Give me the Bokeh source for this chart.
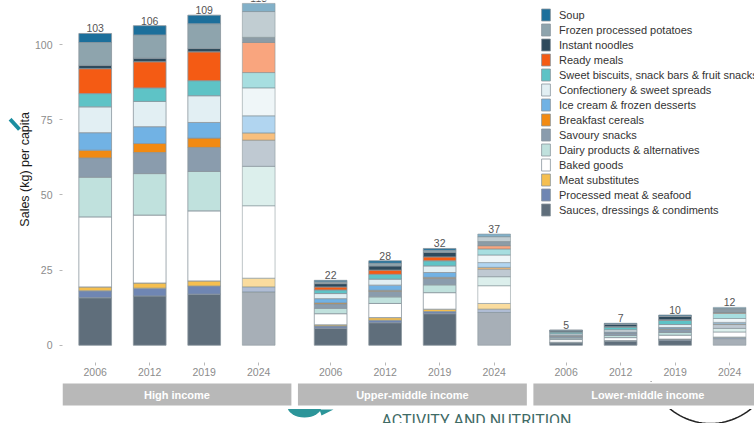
import numpy as np
from bokeh.plotting import figure
from bokeh.models import (ColumnDataSource, Range1d, FixedTicker, Legend, LegendItem,
                          Arrow, NormalHead)
from bokeh.layouts import column
from bokeh.embed import file_html
from bokeh.resources import INLINE
from bokeh.core.properties import value

# ---------------- data ----------------
income_groups = ["High income", "Upper-middle income", "Lower-middle income"]
years = ["2006", "2012", "2019", "2024"]
projected_year = "2024"

# kg per capita, bars in order: High 2006..2024, Upper-middle 2006..2024, Lower-middle 2006..2024
sauces            = [15.8, 16.4, 17.0, 17.7, 5.7, 7.5, 10.5, 10.9, 0.80, 1.30, 1.70, 2.20]
processed_meat    = [2.3, 2.6, 2.7, 1.7, 0.7, 0.8, 0.7, 1.1, 0.15, 0.20, 0.30, 0.40]
meat_substitutes  = [1.3, 1.7, 1.7, 2.9, 0.4, 0.9, 0.8, 1.9, 0.05, 0.05, 0.05, 0.10]
baked_goods       = [23.3, 22.6, 23.3, 24.1, 3.7, 4.7, 5.5, 5.9, 0.90, 1.00, 1.30, 1.70]
dairy             = [13.2, 13.8, 13.1, 13.1, 1.8, 2.2, 2.6, 3.0, 0.50, 0.70, 0.90, 1.20]
savoury_snacks    = [6.4, 7.0, 8.0, 8.7, 1.4, 1.8, 2.1, 2.5, 0.60, 0.80, 1.10, 1.30]
breakfast_cereals = [2.6, 3.0, 3.1, 2.4, 0.4, 0.4, 0.4, 0.6, 0.10, 0.10, 0.15, 0.20]
ice_cream         = [5.8, 5.6, 5.2, 5.7, 1.4, 1.7, 1.6, 1.6, 0.20, 0.30, 0.40, 0.50]
confectionery     = [8.6, 8.4, 8.9, 9.3, 1.7, 2.0, 2.2, 2.5, 0.50, 0.70, 1.00, 1.30]
sweet_biscuits    = [4.4, 4.5, 5.0, 5.1, 1.2, 1.6, 1.7, 2.0, 0.60, 0.90, 1.40, 1.70]
ready_meals       = [8.3, 8.7, 9.6, 10.0, 1.0, 1.4, 1.3, 1.1, 0.10, 0.15, 0.20, 0.25]
instant_noodles   = [1.1, 1.2, 1.1, 1.7, 1.1, 1.4, 1.5, 1.4, 0.40, 0.80, 1.10, 1.20]
frozen_potatoes   = [7.6, 7.7, 8.2, 8.6, 0.6, 0.9, 0.7, 1.6, 0.05, 0.10, 0.15, 0.20]
soup              = [3.0, 3.1, 2.9, 2.7, 0.5, 0.8, 0.6, 0.9, 0.10, 0.20, 0.30, 0.35]

total_labels = [103, 106, 109, 113, 22, 28, 32, 37, 5, 7, 10, 12]

# stacking order, bottom to top
categories = [
    ("Sauces, dressings & condiments", sauces, "#5f6e7b"),
    ("Processed meat & seafood", processed_meat, "#6f86b3"),
    ("Meat substitutes", meat_substitutes, "#f5bf4f"),
    ("Baked goods", baked_goods, "#ffffff"),
    ("Dairy products & alternatives", dairy, "#c0e1dd"),
    ("Savoury snacks", savoury_snacks, "#8a9cad"),
    ("Breakfast cereals", breakfast_cereals, "#f28a12"),
    ("Ice cream & frozen desserts", ice_cream, "#71b2e4"),
    ("Confectionery & sweet spreads", confectionery, "#e2eff3"),
    ("Sweet biscuits, snack bars & fruit snacks", sweet_biscuits, "#5ec3c6"),
    ("Ready meals", ready_meals, "#f45b14"),
    ("Instant noodles", instant_noodles, "#2e4a5c"),
    ("Frozen processed potatoes", frozen_potatoes, "#8ea4ad"),
    ("Soup", soup, "#1c6f9b"),
]

# ---------------- layout constants ----------------
FONT = "Liberation Sans"
W, H = 754, 423
LEFT = 62
FRAME_H1 = 362
BOTTOM1 = 19
H1 = FRAME_H1 + BOTTOM1
H2 = H - H1
BAR_W = 0.6
EXPAND = 0.6
PANEL = 3 + 2 * EXPAND
OFFSET = PANEL + 0.12
PX_PER_X = 54.5
x_lo = -EXPAND
x_hi = x_lo + (W - LEFT) / PX_PER_X
y_lo, y_hi = -5.73, 114.67


def x_of_px(px):
    return x_lo + (px - LEFT) / PX_PER_X


def y_of_px(py):
    return y_hi - py * (y_hi - y_lo) / FRAME_H1


xs, year_labels, fill_alpha, line_alpha = [], [], [], []
for g, grp in enumerate(income_groups):
    for j, yr in enumerate(years):
        xs.append(g * OFFSET + j)
        year_labels.append(yr)
        fill_alpha.append(0.55 if yr == projected_year else 1.0)
        line_alpha.append(0.7 if yr == projected_year else 1.0)

x_range = Range1d(x_lo, x_hi)
p = figure(width=W, height=H1, x_range=x_range, y_range=Range1d(y_lo, y_hi),
           output_backend="svg", toolbar_location=None,
           min_border_left=LEFT, min_border_right=0, min_border_top=0,
           min_border_bottom=BOTTOM1, outline_line_color=None,
           background_fill_color="white", border_fill_color="white")
p.grid.visible = False

bottom = np.zeros(len(xs))
renderers = {}
for name, vals, col in categories:
    vals = np.array(vals, dtype=float)
    src = ColumnDataSource(dict(x=xs, bottom=bottom.copy(), top=bottom + vals,
                                fa=fill_alpha, la=line_alpha))
    r = p.vbar(x="x", bottom="bottom", top="top", width=BAR_W, source=src,
               fill_color=col, fill_alpha="fa", line_color="#8a969d",
               line_alpha="la", line_width=0.8)
    renderers[name] = r
    bottom = bottom + vals

lab_src = ColumnDataSource(dict(x=xs, y=bottom, text=[str(t) for t in total_labels]))
p.text(x="x", y="y", text="text", source=lab_src, text_align="center",
       text_baseline="bottom", y_offset=-1, text_font_size="10.5px",
       text_color="#555555", text_font=value(FONT))

# axes
p.xaxis.ticker = FixedTicker(ticks=xs)
p.xaxis.major_label_overrides = {x: yl for x, yl in zip(xs, year_labels)}
p.xaxis.axis_line_color = None
p.xaxis.major_tick_line_color = "#b8b8b8"
p.xaxis.major_tick_out = 3
p.xaxis.major_tick_in = 0
p.xaxis.minor_tick_line_color = None
p.xaxis.major_label_standoff = 2
p.xaxis.major_label_text_font_size = "10.5px"
p.xaxis.major_label_text_color = "#8c8c8c"
p.xaxis.major_label_text_font = FONT

p.yaxis.ticker = FixedTicker(ticks=[0, 25, 50, 75, 100])
p.yaxis.axis_line_color = None
p.yaxis.major_tick_line_color = "#b8b8b8"
p.yaxis.major_tick_out = 3
p.yaxis.major_tick_in = 0
p.yaxis.minor_tick_line_color = None
p.yaxis.major_label_standoff = 7
p.yaxis.major_label_text_font_size = "10.5px"
p.yaxis.major_label_text_color = "#8c8c8c"
p.yaxis.major_label_text_font = FONT
# leading no-break spaces lift the centred label to the original panel centre
p.yaxis.axis_label = "\u00a0" * 7 + "Sales (kg) per capita"
p.yaxis.axis_label_standoff = 0
p.yaxis.axis_label_text_font_size = "12.5px"
p.yaxis.axis_label_text_font_style = "normal"
p.yaxis.axis_label_text_color = "#1a1a1a"
p.yaxis.axis_label_text_font = FONT

teal = "#1b8ea0"
p.add_layout(Arrow(end=NormalHead(size=14, fill_color=teal, line_color=teal),
                   x_start=x_of_px(-2), y_start=y_of_px(106),
                   x_end=x_of_px(19), y_end=y_of_px(129),
                   line_color=teal, line_width=4))

# legend
items = [LegendItem(label=name, renderers=[renderers[name]], index=0)
         for name, _, _ in reversed(categories)]
legend = Legend(items=items, location=(478, 145), orientation="vertical",
                glyph_width=11, glyph_height=15, label_height=15, spacing=0,
                padding=0, margin=0, label_standoff=8,
                label_text_font_size="11px", label_text_color="#333333",
                label_text_font=FONT, border_line_alpha=0,
                background_fill_alpha=0)
p.add_layout(legend)

# ---------------- facet strips ----------------
p2 = figure(width=W, height=H2, x_range=x_range, y_range=Range1d(H2, 0),
            output_backend="svg", toolbar_location=None,
            min_border_left=LEFT, min_border_right=0, min_border_top=0,
            min_border_bottom=0, x_axis_location=None, y_axis_location=None,
            outline_line_color=None, background_fill_color="white",
            border_fill_color="white")
p2.grid.visible = False

# decorative remnants below the chart
p2.text(x=[x_of_px(381)], y=[39], text=["ACTIVITY AND NUTRITION"],
        text_align="left", text_baseline="alphabetic", text_font_size="16px",
        text_color="#3f6b66", text_font=value("Roboto"))
p2.ellipse(x=[x_of_px(304)], y=[25], width=34 / PX_PER_X, height=22,
           fill_color="#2c9599", line_color=None)
t = np.linspace(0, np.pi, 60)
cx, cy, rr = 710, 360 - H1, 63
p2.line(x=[x_of_px(cx + rr * np.cos(a)) for a in t],
        y=[cy + rr * np.sin(a) for a in t], line_color="#222222", line_width=1.5)
p2.quad(left=[x_lo - 2], right=[x_hi + 2], top=[0], bottom=[27.5],
        fill_color="white", line_color=None)
p2.patch(x=[x_of_px(319), x_of_px(333), x_of_px(321)], y=[28, 28, 34],
         fill_color="#2c9599", line_color=None)

strip_left = [g * OFFSET - EXPAND for g in range(len(income_groups))]
strip_right = [g * OFFSET + 3 + EXPAND for g in range(len(income_groups))]
strip_center = [g * OFFSET + 1.5 for g in range(len(income_groups))]
p2.quad(left=strip_left, right=strip_right, top=[2] * 3, bottom=[24] * 3,
        fill_color="#b8b8b8", line_color=None)
p2.text(x=strip_center, y=[13] * 3, text=income_groups, text_align="center",
        text_baseline="middle", text_font_size="11px", text_font_style="bold",
        text_color="white", text_font=value(FONT))

layout = column(p, p2, spacing=0)
open("out.html", "w").write(file_html(layout, INLINE))
